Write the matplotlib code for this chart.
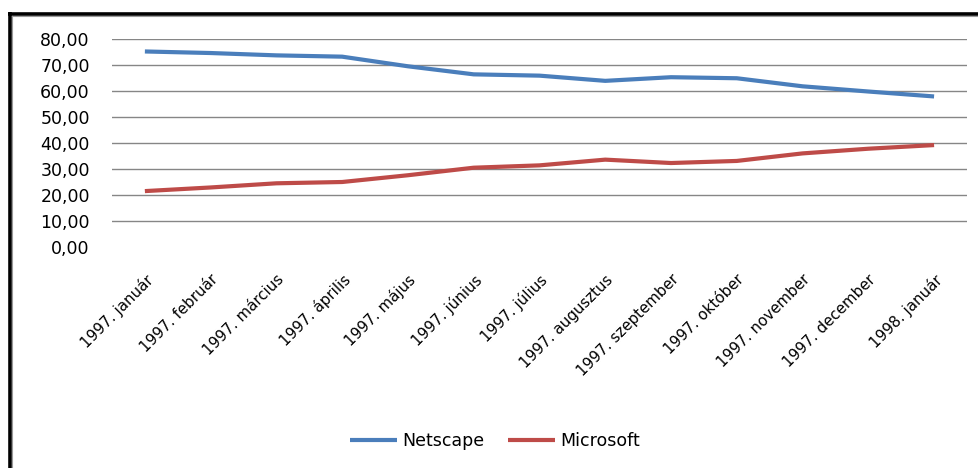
import matplotlib.pyplot as plt
from matplotlib.lines import Line2D
import numpy as np

# data
months = ["1997. január", "1997. február", "1997. március", "1997. április",
          "1997. május", "1997. június", "1997. július", "1997. augusztus",
          "1997. szeptember", "1997. október", "1997. november",
          "1997. december", "1998. január"]
netscape = [75.2, 74.6, 73.7, 73.2, 69.5, 66.4, 65.9, 63.9, 65.3, 64.9, 61.8, 59.8, 57.9]
microsoft = [21.5, 22.9, 24.5, 25.0, 27.6, 30.5, 31.4, 33.6, 32.3, 33.1, 36.0, 37.8, 39.2]
yticks = [0, 10, 20, 30, 40, 50, 60, 70, 80]

plt.rcParams['font.family'] = ['DejaVu Sans']

fig = plt.figure(figsize=(9.79, 4.68), dpi=100)
ax = fig.add_axes([0.1144, 0.4722, 0.8733, 0.4445])

x = np.arange(len(months))
ax.plot(x, netscape, color='#4A7EBB', lw=3, label='Netscape', solid_capstyle='butt')
ax.plot(x, microsoft, color='#BE4B48', lw=3, label='Microsoft', solid_capstyle='butt')

ax.set_xlim(-0.5, len(months) - 0.5)
ax.set_ylim(0, 80)
ax.set_yticks(yticks)
ax.set_yticklabels([f"{v:.2f}".replace('.', ',') for v in yticks], fontsize=12.5)
# gridlines everywhere except at zero
for v in yticks[1:]:
    ax.axhline(v, color='#868686', lw=1.0, zorder=0)
ax.tick_params(axis='y', length=0, pad=16)
ax.tick_params(axis='x', length=0, pad=18)
ax.set_xticks(x)
ax.set_xticklabels(months, rotation=45, ha='right', va='top',
                   rotation_mode='anchor', fontsize=10.8)
for s in ax.spines.values():
    s.set_visible(False)

leg = fig.legend(loc='center', bbox_to_anchor=(0.5056, 1 - 441 / 468), ncol=2,
                 frameon=False, fontsize=12.5, handlelength=2.7,
                 handletextpad=0.3, columnspacing=1.4)

# outer frame (top and left edges only, as in the picture)
fig.add_artist(Line2D([8 / 979, 1], [1 - 13.5 / 468] * 2, transform=fig.transFigure,
                      color='black', lw=2.6, solid_capstyle='butt'))
fig.add_artist(Line2D([9.5 / 979] * 2, [0, 1 - 12.2 / 468], transform=fig.transFigure,
                      color='black', lw=2.6, solid_capstyle='butt'))
fig.add_artist(Line2D([12.5 / 979, 1], [1 - 16 / 468] * 2, transform=fig.transFigure,
                      color='#9a9a9a', lw=0.8))
fig.add_artist(Line2D([12.5 / 979] * 2, [0, 1 - 16 / 468], transform=fig.transFigure,
                      color='#9a9a9a', lw=0.8))

plt.savefig('out.png', dpi=100)
